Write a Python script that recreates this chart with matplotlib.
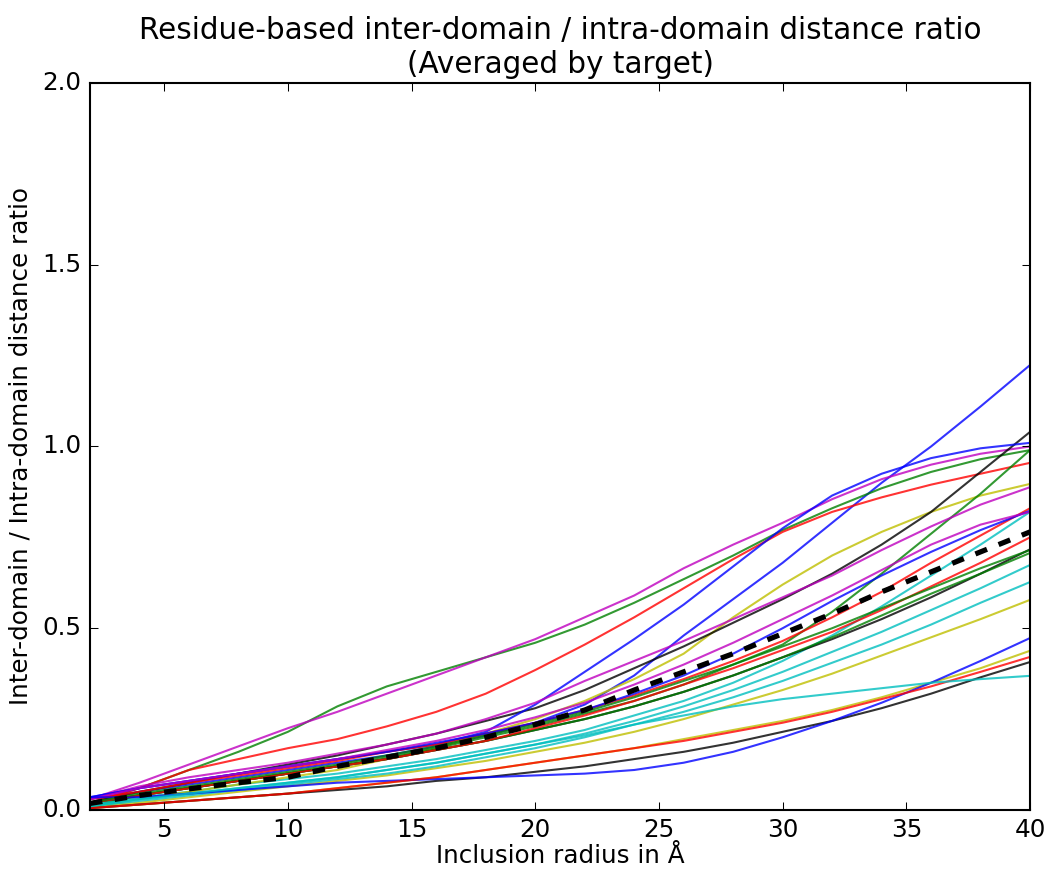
import matplotlib
matplotlib.use('Agg')
import matplotlib.pyplot as plt

plt.style.use('classic')
plt.rcParams['font.family'] = ['DejaVu Sans']
plt.rcParams['font.size'] = 11.8
plt.rcParams['lines.scale_dashes'] = False

radius = [2, 4, 6, 8, 10, 12, 14, 16, 18, 20, 22, 24, 26, 28, 30, 32, 34, 36, 38, 40]

B_steep = [0.030, 0.050, 0.070, 0.090, 0.110, 0.130, 0.150, 0.175, 0.205, 0.240, 0.290, 0.370, 0.480, 0.580, 0.680, 0.790, 0.900, 1.000, 1.110, 1.224]
G1 = [0.020, 0.060, 0.110, 0.160, 0.215, 0.285, 0.340, 0.380, 0.420, 0.460, 0.510, 0.570, 0.635, 0.700, 0.770, 0.830, 0.885, 0.930, 0.965, 0.990]
R1 = [0.020, 0.060, 0.110, 0.140, 0.170, 0.195, 0.230, 0.270, 0.320, 0.385, 0.455, 0.530, 0.610, 0.690, 0.765, 0.820, 0.860, 0.895, 0.925, 0.955]
C1 = [0.020, 0.035, 0.050, 0.070, 0.085, 0.100, 0.120, 0.140, 0.165, 0.190, 0.220, 0.260, 0.300, 0.350, 0.410, 0.480, 0.560, 0.645, 0.730, 0.820]
M1 = [0.030, 0.075, 0.125, 0.175, 0.225, 0.270, 0.320, 0.370, 0.420, 0.470, 0.530, 0.590, 0.665, 0.730, 0.790, 0.855, 0.910, 0.950, 0.980, 1.000]
Y1 = [0.010, 0.030, 0.050, 0.070, 0.090, 0.110, 0.140, 0.170, 0.210, 0.250, 0.300, 0.360, 0.430, 0.530, 0.620, 0.700, 0.765, 0.820, 0.865, 0.897]
K1 = [0.020, 0.050, 0.075, 0.100, 0.125, 0.150, 0.180, 0.210, 0.245, 0.280, 0.330, 0.390, 0.450, 0.515, 0.580, 0.650, 0.730, 0.820, 0.930, 1.040]
B_plat = [0.035, 0.060, 0.080, 0.100, 0.120, 0.140, 0.160, 0.180, 0.215, 0.290, 0.380, 0.470, 0.565, 0.670, 0.775, 0.865, 0.925, 0.968, 0.995, 1.010]
G2 = [0.010, 0.040, 0.060, 0.080, 0.100, 0.120, 0.145, 0.170, 0.200, 0.230, 0.265, 0.300, 0.345, 0.400, 0.455, 0.545, 0.650, 0.760, 0.870, 0.990]
R2 = [0.030, 0.050, 0.075, 0.095, 0.115, 0.135, 0.160, 0.180, 0.210, 0.240, 0.275, 0.315, 0.360, 0.410, 0.465, 0.530, 0.600, 0.680, 0.755, 0.830]
C2 = [0.015, 0.030, 0.045, 0.060, 0.075, 0.090, 0.110, 0.130, 0.155, 0.180, 0.210, 0.245, 0.285, 0.330, 0.380, 0.435, 0.490, 0.550, 0.610, 0.674]
M2 = [0.030, 0.065, 0.090, 0.110, 0.130, 0.155, 0.180, 0.210, 0.250, 0.295, 0.355, 0.410, 0.465, 0.525, 0.585, 0.645, 0.715, 0.780, 0.840, 0.888]
Y2 = [0.010, 0.020, 0.035, 0.050, 0.065, 0.080, 0.095, 0.115, 0.135, 0.160, 0.185, 0.215, 0.250, 0.290, 0.330, 0.375, 0.425, 0.475, 0.525, 0.578]
K2 = [0.020, 0.040, 0.060, 0.080, 0.100, 0.120, 0.140, 0.165, 0.190, 0.220, 0.250, 0.285, 0.325, 0.370, 0.420, 0.470, 0.525, 0.585, 0.650, 0.717]
B3 = [0.035, 0.060, 0.080, 0.100, 0.120, 0.140, 0.160, 0.185, 0.210, 0.240, 0.275, 0.320, 0.370, 0.430, 0.500, 0.575, 0.645, 0.710, 0.770, 0.823]
G3 = [0.020, 0.040, 0.060, 0.080, 0.100, 0.120, 0.140, 0.165, 0.190, 0.220, 0.250, 0.285, 0.325, 0.370, 0.420, 0.475, 0.535, 0.595, 0.650, 0.707]
R3 = [0.020, 0.040, 0.060, 0.080, 0.100, 0.120, 0.140, 0.165, 0.190, 0.225, 0.260, 0.300, 0.345, 0.390, 0.440, 0.490, 0.550, 0.615, 0.680, 0.750]
C3 = [0.010, 0.025, 0.040, 0.055, 0.070, 0.085, 0.100, 0.120, 0.145, 0.170, 0.200, 0.235, 0.270, 0.310, 0.355, 0.405, 0.455, 0.510, 0.570, 0.627]
M3 = [0.030, 0.060, 0.080, 0.100, 0.120, 0.140, 0.165, 0.190, 0.220, 0.255, 0.295, 0.345, 0.400, 0.460, 0.525, 0.590, 0.660, 0.730, 0.785, 0.820]
Y3 = [0.005, 0.015, 0.025, 0.035, 0.045, 0.060, 0.075, 0.090, 0.110, 0.130, 0.150, 0.170, 0.195, 0.220, 0.245, 0.275, 0.310, 0.350, 0.390, 0.438]
K3 = [0.005, 0.015, 0.025, 0.035, 0.045, 0.055, 0.065, 0.080, 0.090, 0.105, 0.120, 0.140, 0.160, 0.185, 0.215, 0.245, 0.280, 0.320, 0.365, 0.407]
B4 = [0.035, 0.035, 0.045, 0.055, 0.065, 0.075, 0.080, 0.085, 0.090, 0.095, 0.100, 0.110, 0.130, 0.160, 0.200, 0.245, 0.295, 0.350, 0.410, 0.473]
G4 = [0.020, 0.045, 0.065, 0.085, 0.105, 0.125, 0.150, 0.175, 0.205, 0.235, 0.270, 0.310, 0.355, 0.400, 0.450, 0.500, 0.555, 0.610, 0.665, 0.715]
R4 = [0.005, 0.015, 0.025, 0.035, 0.045, 0.060, 0.075, 0.090, 0.110, 0.130, 0.150, 0.170, 0.190, 0.215, 0.240, 0.270, 0.305, 0.340, 0.380, 0.421]
C4 = [0.010, 0.030, 0.045, 0.060, 0.075, 0.090, 0.110, 0.130, 0.155, 0.180, 0.205, 0.235, 0.260, 0.285, 0.305, 0.320, 0.335, 0.350, 0.360, 0.369]

average = [0.018, 0.040, 0.058, 0.075, 0.090, 0.120, 0.145, 0.170, 0.200, 0.235, 0.275, 0.330, 0.380, 0.430, 0.485, 0.540, 0.600, 0.655, 0.710, 0.765]

targets = [B_steep, G1, R1, C1, M1, Y1, K1,
           B_plat, G2, R2, C2, M2, Y2, K2,
           B3, G3, R3, C3, M3, Y3, K3,
           B4, G4, R4, C4]
cycle = ['b', 'g', 'r', 'c', 'm', 'y', 'k']

fig = plt.figure(figsize=(6.96, 5.8), dpi=150, facecolor='white')
ax = fig.add_axes([0.0862, 0.069, 0.9004, 0.8356])
for i, vals in enumerate(targets):
    ax.plot(radius, vals, color=cycle[i % len(cycle)], lw=1.0, alpha=0.8)
ax.plot(radius, average, color='k', ls='--', lw=2.5, dashes=(6, 6))

ax.set_xlim(2, 40)
ax.set_ylim(0, 2)
ax.set_xticks([5, 10, 15, 20, 25, 30, 35, 40])
ax.set_yticks([0.0, 0.5, 1.0, 1.5, 2.0])
ax.set_title('Residue-based inter-domain / intra-domain distance ratio\n(Averaged by target)')
ax.set_xlabel('Inclusion radius in Å', labelpad=1)
ax.set_ylabel('Inter-domain / Intra-domain distance ratio')

fig.savefig('out.png', dpi=150, facecolor='white')
